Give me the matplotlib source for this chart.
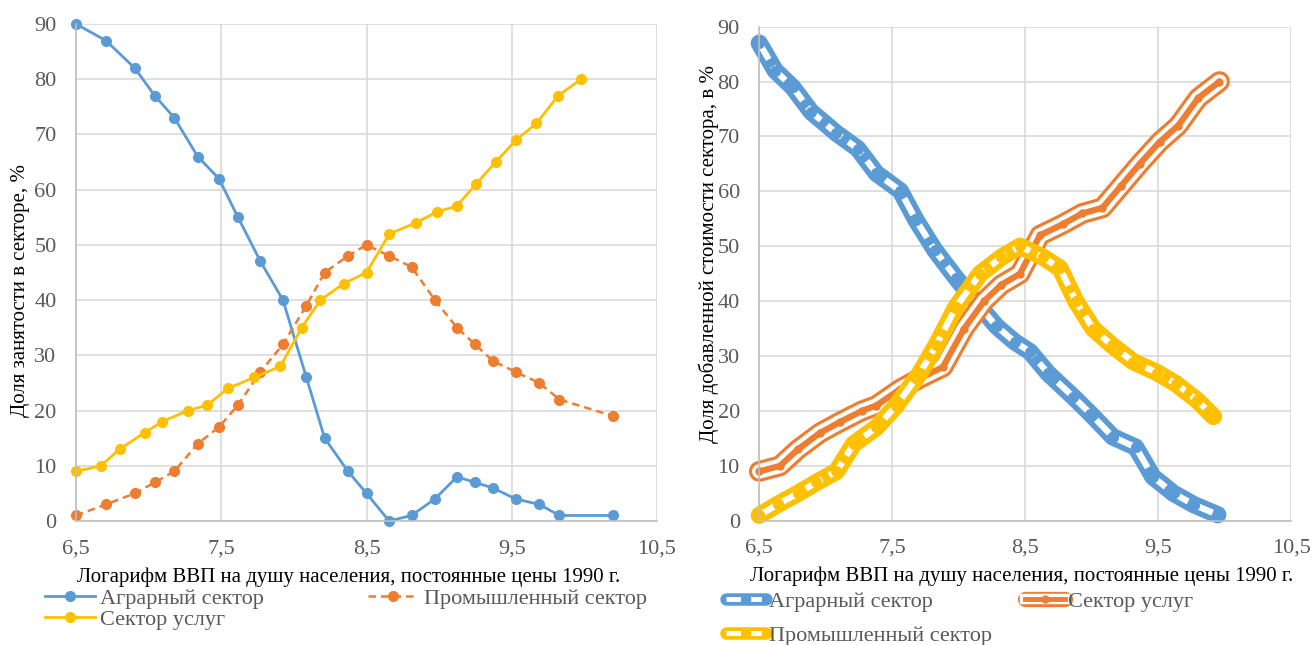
import matplotlib
matplotlib.use("Agg")
import matplotlib.pyplot as plt
from matplotlib.lines import Line2D
from matplotlib.legend_handler import HandlerTuple

plt.rcParams['font.family'] = ['Liberation Serif', 'DejaVu Serif']

# left chart: employment share by sector
emp_agr_x = [6.5, 6.706, 6.905, 7.043, 7.177, 7.338, 7.484, 7.615, 7.77, 7.925, 8.086, 8.212,
             8.372, 8.5, 8.656, 8.81, 8.971, 9.123, 9.246, 9.369, 9.526, 9.69, 9.828, 10.2]
emp_agr_y = [90, 87, 82, 77, 73, 66, 62, 55, 47, 40, 26, 15, 9, 5, 0, 1, 4, 8, 7, 6, 4, 3, 1, 1]
emp_ind_x = emp_agr_x
emp_ind_y = [1, 3, 5, 7, 9, 14, 17, 21, 27, 32, 39, 45, 48, 50, 48, 46, 40, 35, 32, 29, 27, 25, 22, 19]
emp_srv_x = [6.5, 6.671, 6.8, 6.972, 7.095, 7.27, 7.405, 7.545, 7.726, 7.907, 8.054, 8.182,
             8.343, 8.5, 8.658, 8.84, 8.986, 9.12, 9.254, 9.389, 9.53, 9.67, 9.819, 9.977]
emp_srv_y = [9, 10, 13, 16, 18, 20, 21, 24, 26, 28, 35, 40, 43, 45, 52, 54, 56, 57, 61, 65, 69, 72, 77, 80]

# right chart: value added share by sector
va_agr_x = [6.5, 6.62, 6.75, 6.89, 7.08, 7.24, 7.38, 7.56, 7.68, 7.82, 7.98, 8.14,
            8.285, 8.42, 8.535, 8.67, 8.86, 8.99, 9.157, 9.33, 9.46, 9.615, 9.77, 9.947]
va_agr_y = [87, 82, 79, 74.5, 70.6, 67.8, 63.3, 60.1, 54.7, 49.3, 44.2, 39.5,
            35.4, 32.6, 30.8, 26.9, 22.6, 19.5, 15.3, 13.4, 8, 5, 2.9, 1.1]
va_srv_x = [6.5, 6.655, 6.79, 6.956, 7.107, 7.27, 7.38, 7.56, 7.71, 7.88, 8.04, 8.19,
            8.32, 8.46, 8.61, 8.78, 8.93, 9.08, 9.22, 9.36, 9.51, 9.65, 9.8, 9.96]
va_srv_y = emp_srv_y
va_ind_x = [6.5, 6.64, 6.79, 6.93, 7.08, 7.21, 7.38, 7.53, 7.71, 7.83, 7.98, 8.16,
            8.32, 8.46, 8.635, 8.76, 8.88, 9.01, 9.15, 9.31, 9.49, 9.63, 9.79, 9.915]
va_ind_y = emp_ind_y

x_ticks = [6.5, 7.5, 8.5, 9.5, 10.5]
y_ticks = list(range(0, 91, 10))
x_title = 'Логарифм ВВП на душу населения, постоянные цены 1990 г.'

BLUE = '#5B9BD5'
ORANGE = '#ED7D31'
YELLOW = '#FFC000'
GREY = '#595959'

fig = plt.figure(figsize=(13.14, 6.45), dpi=100)
W, H = 1314, 645
ax1 = fig.add_axes([76 / W, 1 - 521 / H, 581 / W, 497 / H])
ax2 = fig.add_axes([759.3 / W, 1 - 520.8 / H, 532 / W, 494.1 / H])


def style_axes(ax):
    ax.set_xlim(6.5, 10.5)
    ax.set_ylim(0, 90)
    ax.set_xticks(x_ticks)
    ax.set_xticklabels([f'{v:.1f}'.replace('.', ',') for v in x_ticks])
    ax.set_yticks(y_ticks)
    ax.tick_params(length=0, labelsize=16, labelcolor=GREY)
    ax.tick_params(axis='x', pad=13)
    ax.tick_params(axis='y', pad=14)
    ax.grid(True, color='#d9d9d9', lw=1.2)
    ax.set_axisbelow(True)
    for s in ['top', 'right']:
        ax.spines[s].set_visible(False)
    for s in ['left', 'bottom']:
        ax.spines[s].set_color('#bfbfbf')
        ax.spines[s].set_linewidth(1.2)


style_axes(ax1)
style_axes(ax2)

# left chart
l_agr, = ax1.plot(emp_agr_x, emp_agr_y, color=BLUE, lw=2, marker='o', ms=7, clip_on=False)
l_ind, = ax1.plot(emp_ind_x, emp_ind_y, color=ORANGE, lw=1.8, ls=(0, (3, 2)), marker='o', ms=7, clip_on=False)
l_srv, = ax1.plot(emp_srv_x, emp_srv_y, color=YELLOW, lw=2, marker='o', ms=7, clip_on=False)

ax1.set_xlabel(x_title, fontsize=15)
ax1.xaxis.set_label_coords(0.47, -0.093)
ax1.set_ylabel('Доля занятости в секторе, %', fontsize=15)
ax1.yaxis.set_label_coords(-0.079, 0.463)

fig.legend([l_agr, l_srv, l_ind], ['Аграрный сектор', 'Сектор услуг', 'Промышленный сектор'],
           loc='upper left', bbox_to_anchor=(45 / W, 1 - 588 / H), ncol=2, frameon=False,
           fontsize=16, labelcolor=GREY, handlelength=2.25, handletextpad=0.23,
           columnspacing=4.7, labelspacing=0.05, borderpad=0, borderaxespad=0)


# right chart: compound lines
def banded(ax, x, y, color, kind):
    kw = dict(solid_capstyle='round', solid_joinstyle='round', dash_capstyle='butt', clip_on=False)
    if kind == 'dash':
        a, = ax.plot(x, y, color=color, lw=12.5, **kw)
        b, = ax.plot(x, y, color='white', lw=4.5, ls=(0, (3, 1.3)), **kw)
        c, = ax.plot(x, y, color=color, lw=0, marker='o', ms=7, ls='none', clip_on=False)
    else:
        a, = ax.plot(x, y, color=color, lw=15, **kw)
        b, = ax.plot(x, y, color='white', lw=10.5, **kw)
        c, = ax.plot(x, y, color=color, lw=4.5, marker='o', ms=5, **kw)
    return (a, b, c)


h_agr = banded(ax2, va_agr_x, va_agr_y, BLUE, 'dash')
h_srv = banded(ax2, va_srv_x, va_srv_y, ORANGE, 'double')
h_ind = banded(ax2, va_ind_x, va_ind_y, YELLOW, 'dash')

ax2.set_xlabel(x_title, fontsize=15)
ax2.xaxis.set_label_coords(0.494, -0.093)
ax2.set_ylabel('Доля добавленной стоимости сектора, в %', fontsize=15)
ax2.yaxis.set_label_coords(-0.076, 0.54)


def legend_handle(color, kind):
    if kind == 'dash':
        return (Line2D([], [], color=color, lw=9, solid_capstyle='round'),
                Line2D([], [], color='white', lw=3.5, ls=(0, (3, 1.3))),
                Line2D([], [], color=color, marker='o', ms=6, ls='none'))
    return (Line2D([], [], color=color, lw=11, solid_capstyle='round'),
            Line2D([], [], color='white', lw=7.5),
            Line2D([], [], color=color, lw=3.5, marker='o', ms=5))


fig.legend([legend_handle(BLUE, 'dash'), legend_handle(YELLOW, 'dash'), legend_handle(ORANGE, 'double')],
           ['Аграрный сектор', 'Промышленный сектор', 'Сектор услуг'],
           handler_map={tuple: HandlerTuple(ndivide=1, pad=0)},
           loc='upper left', bbox_to_anchor=(726 / W, 1 - 591 / H), ncol=2, frameon=False,
           fontsize=16, labelcolor=GREY, handlelength=1.8, handletextpad=0.15,
           columnspacing=1.45, labelspacing=0.62, borderpad=0, borderaxespad=0)

fig.savefig('out.png', dpi=100)
